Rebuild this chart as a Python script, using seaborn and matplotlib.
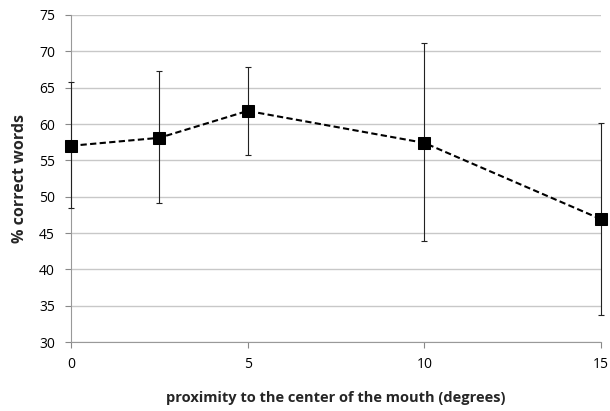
import matplotlib
matplotlib.use("Agg")
import matplotlib.pyplot as plt
import seaborn as sns
import pandas as pd

# proximity (degrees) and % correct words, with error bar ends
proximity = [0, 2.5, 5, 10, 15]
pct_correct = [57.0, 58.1, 61.8, 57.4, 46.9]
err_upper = [65.8, 67.3, 67.9, 71.1, 60.1]
err_lower = [48.5, 49.1, 55.8, 43.9, 33.7]

x_ticks = [0, 5, 10, 15]
y_ticks = [30, 35, 40, 45, 50, 55, 60, 65, 70, 75]

df = pd.DataFrame({"proximity": proximity, "pct": pct_correct})

sns.set_style("white")
plt.rcParams["font.family"] = ["Open Sans", "DejaVu Sans"]

fig = plt.figure(figsize=(6.10, 4.11), dpi=100)
ax = fig.add_axes([71 / 610, 1 - 342 / 411, (601 - 71) / 610, (342 - 15) / 411])

for y in y_ticks:
    ax.axhline(y, color="#c8c8c8", lw=1.0, zorder=0)

yerr = [[p - lo for p, lo in zip(pct_correct, err_lower)],
        [hi - p for p, hi in zip(pct_correct, err_upper)]]
eb = ax.errorbar(proximity, pct_correct, yerr=yerr, fmt="none", ecolor="#222222",
                 elinewidth=0.8, capsize=2, capthick=0.8, zorder=4)
for art in eb.lines[1] + eb.lines[2]:
    art.set_clip_on(False)

sns.lineplot(data=df, x="proximity", y="pct", ax=ax, color="black",
             linestyle=(0, (3, 1.6)), lw=1.5, marker="s", markersize=8,
             markeredgecolor="black", markerfacecolor="black", zorder=5,
             clip_on=False)

ax.set_xlim(0, 15)
ax.set_ylim(30, 75)
ax.set_xticks(x_ticks)
ax.set_yticks(y_ticks)
ax.tick_params(axis="both", labelsize=10, colors="#888888", labelcolor="black",
               length=4.5, width=0.8, direction="out", left=True, bottom=True)
ax.tick_params(axis="x", pad=6)
ax.tick_params(axis="y", pad=7)

for side in ["top", "right"]:
    ax.spines[side].set_visible(False)
for side in ["left", "bottom"]:
    ax.spines[side].set_color("#999999")
    ax.spines[side].set_linewidth(0.8)

ax.set_xlabel("proximity to the center of the mouth (degrees)", fontsize=10.5,
              fontweight="bold", labelpad=14)
ax.set_ylabel("% correct words", fontsize=11.5, fontweight="bold", labelpad=8)

fig.savefig("out.png", dpi=100)
